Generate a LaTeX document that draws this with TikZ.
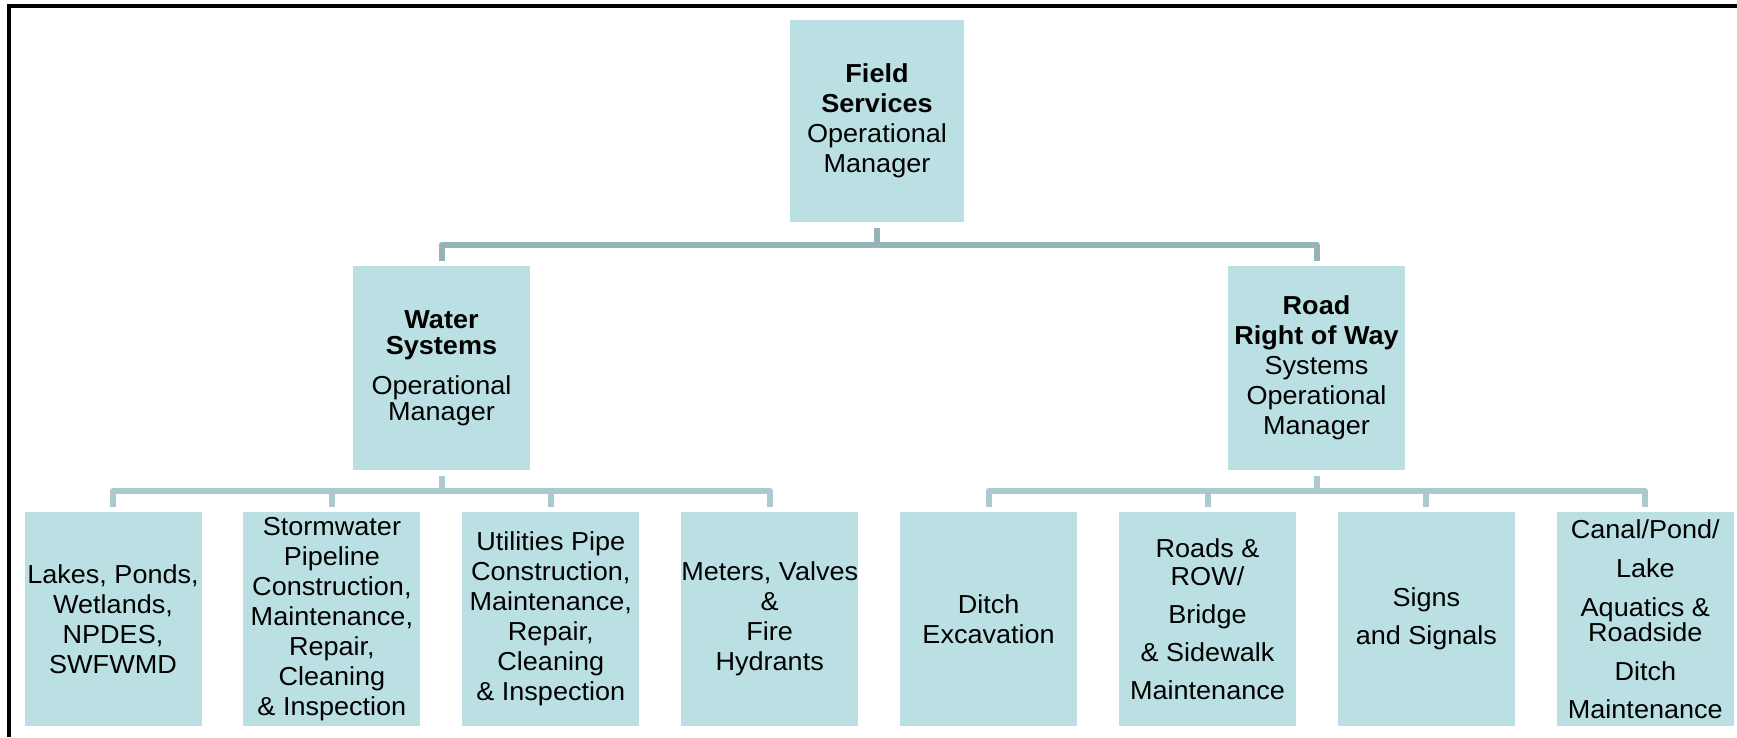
\documentclass[tikz,border=0pt]{standalone}
\usepackage{fontspec}
\setmainfont{Liberation Sans}[FakeStretch=1.04]
\usetikzlibrary{positioning}
\definecolor{boxfill}{HTML}{BBE0E3}
\definecolor{linktop}{HTML}{95B3B8}
\definecolor{linklow}{HTML}{A9CBCF}

\begin{document}
\begin{tikzpicture}[x=1pt, y=-1pt,
  unit/.style={fill=boxfill, draw=none, inner sep=0pt, align=center,
    minimum width=177pt, minimum height=214pt, font=\fontsize{26}{30}\selectfont},
  manager/.style={unit, minimum height=204pt},
  link/.style={line width=6pt, line join=round}]
\useasboundingbox (0,0) rectangle (1737,737);
\draw[line width=4pt] (9,737) -- (9,6) -- (1737,6);
\coordinate (topbus) at (0,245);
\coordinate (lowbus) at (0,491);
% managers
\node[unit, minimum width=174pt, minimum height=202pt] (fs) at (877,121)
  {\textbf{Field}\\\textbf{Services}\\Operational\\Manager};
\node[manager] (water) at (441.5,368)
  {\textbf{Water}\\[-4pt]\textbf{Systems}\\[10pt]Operational\\[-4pt]Manager};
\node[manager] (road) at (1316.5,368)
  {\textbf{Road}\\\textbf{Right of Way}\\Systems\\Operational\\Manager};
% sections
\node[unit] (lakes) at (113,619) {Lakes, Ponds,\\Wetlands,\\NPDES,\\SWFWMD};
\node[unit, right=41.5pt of lakes] (storm)
  {Stormwater\\Pipeline\\Construction,\\Maintenance,\\Repair,\\Cleaning\\\& Inspection};
\node[unit, right=41.5pt of storm] (utility)
  {Utilities Pipe\\Construction,\\Maintenance,\\Repair,\\Cleaning\\\& Inspection};
\node[unit, right=41.5pt of utility] (meters) {Meters, Valves\\\&\\Fire\\Hydrants};
\node[unit, right=41.5pt of meters] (ditch) {Ditch\\Excavation};
\node[unit, right=41.5pt of ditch] (roads)
  {Roads \&\\[-2pt]ROW/\\[8pt]Bridge\\[8pt]\& Sidewalk\\[8pt]Maintenance};
\node[unit, right=41.5pt of roads] (signs) {Signs\\[8pt]and Signals};
\node[unit, right=41.5pt of signs] (canal)
  {Canal/Pond/\\[9pt]Lake\\[9pt]Aquatics \&\\[-5pt]Roadside\\[9pt]Ditch\\[8pt]Maintenance};
% connectors
\foreach \c in {water,road}
  \draw[link, draw=linktop] ([yshift=-6pt]fs.south) -- (fs.south |- topbus) -| ([yshift=5pt]\c.north);
\foreach \c in {lakes,storm,utility,meters}
  \draw[link, draw=linklow] ([yshift=-6pt]water.south) -- (water.south |- lowbus) -| ([yshift=5pt]\c.north);
\foreach \c in {ditch,roads,signs,canal}
  \draw[link, draw=linklow] ([yshift=-6pt]road.south) -- (road.south |- lowbus) -| ([yshift=5pt]\c.north);
\end{tikzpicture}
\end{document}
